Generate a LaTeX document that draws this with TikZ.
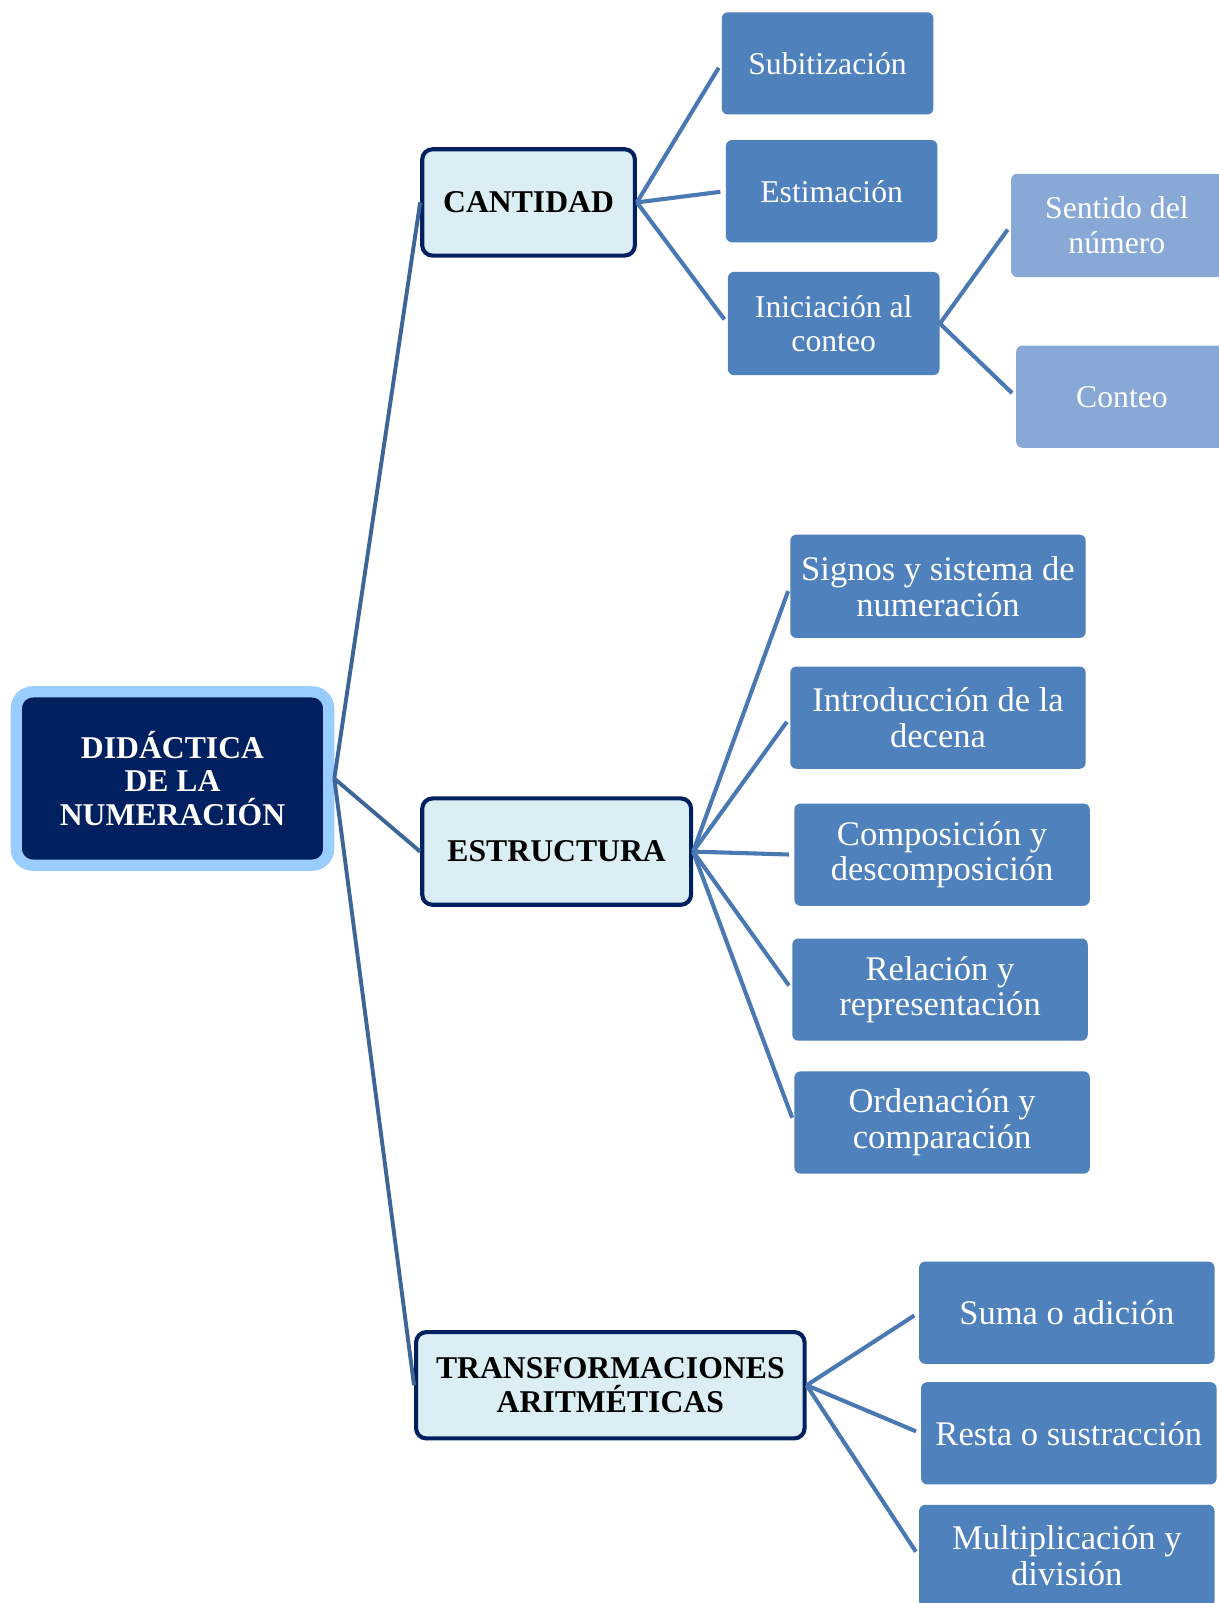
\documentclass[tikz,border=0pt]{standalone}
\usepackage{fontspec}
\setmainfont{Liberation Serif}
\definecolor{navy}{HTML}{002060}
\definecolor{lightband}{HTML}{99CCFF}
\definecolor{lvlfill}{HTML}{DAEEF3}
\definecolor{childfill}{HTML}{4F81BD}
\definecolor{paleChild}{HTML}{88A9D5}
\definecolor{rootline}{HTML}{3E6598}
\definecolor{subline}{HTML}{4A78B2}
\tikzset{
  rootbox/.style={draw=lightband, line width=5.5pt, fill=navy, rounded corners=8pt,
    text=white, font=\fontsize{15.5}{16.5}\selectfont\bfseries, align=center,
    minimum width=152.75pt, minimum height=84.75pt, inner sep=0pt},
  lvlbox/.style={draw=navy, line width=2pt, fill=lvlfill, rounded corners=5pt,
    font=\fontsize{15.5}{16.5}\selectfont\bfseries, align=center,
    minimum height=52pt, inner sep=0pt},
  childbox/.style={fill=childfill, rounded corners=3pt, text=white,
    font=\fontsize{15.5}{17}\selectfont, align=center,
    minimum height=50pt, inner sep=0pt},
  widechild/.style={childbox, font=\fontsize{16.9}{17.5}\selectfont},
  palebox/.style={childbox, fill=paleChild},
  rootlink/.style={draw=rootline, line width=1.9pt},
  sublink/.style={draw=subline, line width=2pt, shorten >=2.5pt},
}
\begin{document}
\begin{tikzpicture}[x=0.5pt, y=-0.5pt]
\fill[white] (0,0) rectangle (1192,1568);
\useasboundingbox (0,0) rectangle (1192,1568);

% root
\node[rootbox] (root) at (168.75,761.5) {DIDÁCTICA\\DE LA\\NUMERACIÓN};

% level 1
\node[lvlbox, minimum width=104pt] (cant) at (517,198) {CANTIDAD};
\node[lvlbox, minimum width=131.5pt] (estr) at (544.5,833) {ESTRUCTURA};
\node[lvlbox, minimum width=190pt] (trans) at (597,1355) {TRANSFORMACIONES\\ARITMÉTICAS};

% children of CANTIDAD
\node[childbox, minimum width=103.5pt] (subi) at (809.5,62) {Subitización};
\node[childbox, minimum width=103.5pt] (esti) at (813.5,187) {Estimación};
\node[childbox, minimum width=103.5pt, minimum height=50.5pt] (inic) at (815.5,316.5) {Iniciación al\\conteo};
\node[palebox, minimum width=103.5pt, minimum height=50.5pt] (sent) at (1092.5,220.5) {Sentido del\\número};
\node[palebox, minimum width=103.5pt] (cont) at (1097.5,388) {Conteo};

% children of ESTRUCTURA
\node[widechild, minimum width=144.5pt, minimum height=50.5pt] (sign) at (917.5,573.5) {Signos y sistema de\\numeración};
\node[widechild, minimum width=144.5pt] (intr) at (917.5,702) {Introducción de la\\decena};
\node[widechild, minimum width=144.5pt] (comp) at (921.5,836) {Composición y\\descomposición};
\node[widechild, minimum width=144.5pt] (rela) at (919.5,968) {Relación y\\representación};
\node[widechild, minimum width=144.5pt] (orde) at (921.5,1098) {Ordenación y\\comparación};

% children of TRANSFORMACIONES
\node[widechild, minimum width=144.5pt] (suma) at (1043.5,1284) {Suma o adición};
\node[widechild, minimum width=144.5pt] (rest) at (1045.5,1402) {Resta o sustracción};
\node[widechild, minimum width=144.5pt] (mult) at (1043.5,1522) {Multiplicación y\\división};

% connectors
\draw[rootlink] (root.east) -- (cant.west);
\draw[rootlink] (root.east) -- (estr.west);
\draw[rootlink] (root.east) -- (trans.west);

\draw[sublink] (cant.east) -- (subi.west);
\draw[sublink] (cant.east) -- (esti.west);
\draw[sublink] (cant.east) -- (inic.west);
\draw[sublink] (inic.east) -- (sent.west);
\draw[sublink] (inic.east) -- (cont.west);

\draw[sublink] (estr.east) -- (sign.west);
\draw[sublink] (estr.east) -- (intr.west);
\draw[sublink] (estr.east) -- (comp.west);
\draw[sublink] (estr.east) -- (rela.west);
\draw[sublink] (estr.east) -- (orde.west);

\draw[sublink] (trans.east) -- (suma.west);
\draw[sublink] (trans.east) -- (rest.west);
\draw[sublink] (trans.east) -- (mult.west);
\end{tikzpicture}
\end{document}
